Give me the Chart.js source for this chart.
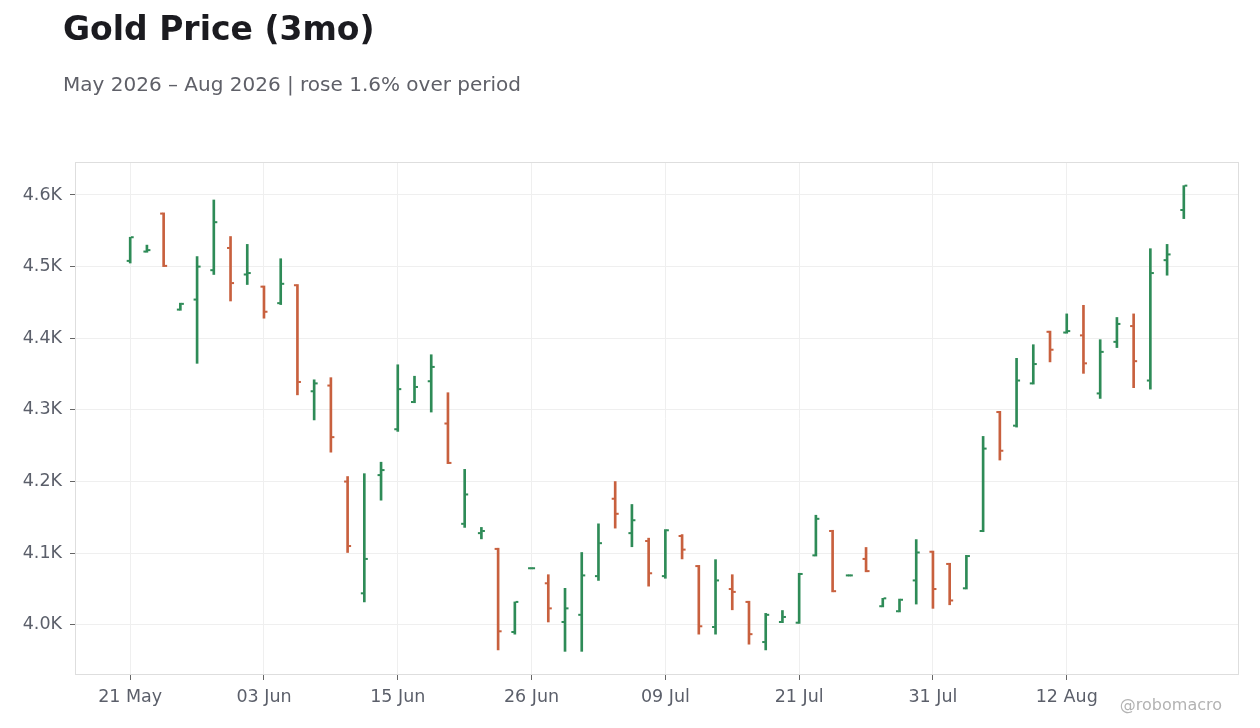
<!DOCTYPE html>
<html>
<head>
<meta charset="utf-8">
<script src="https://cdn.jsdelivr.net/npm/chart.js@4.4.1/dist/chart.umd.min.js"></script>
<style>
  html, body { margin: 0; padding: 0; background: #fff; }
  #wrap { position: relative; width: 1260px; height: 728px; overflow: hidden; font-family: 'DejaVu Sans', sans-serif; }
  #chartBox { position: absolute; left: 0; top: 0; width: 1260px; height: 728px; }
  .txt { position: absolute; line-height: 1; white-space: nowrap; }
  #title { left: 63px; top: 12px; font-size: 33px; font-weight: bold; color: #1b1b20; }
  #subtitle { left: 63px; top: 74px; font-size: 20px; color: #5f6068; }
  #credit { right: 38px; top: 697px; font-size: 16px; color: #b3b3b3; }
</style>
</head>
<body>
<div id="wrap">
  <div id="chartBox"><canvas id="ohlcChart"></canvas></div>
  <div class="txt" id="title">Gold Price (3mo)</div>
  <div class="txt" id="subtitle">May 2026 – Aug 2026 | rose 1.6% over period</div>
  <div class="txt" id="credit">@robomacro</div>
</div>
<script>
// Trading days shown on the x axis
const dates = [
  '21 May', '22 May', '26 May', '27 May', '28 May', '29 May', '01 Jun', '02 Jun',
  '03 Jun', '04 Jun', '05 Jun', '08 Jun', '09 Jun', '10 Jun', '11 Jun', '12 Jun',
  '15 Jun', '16 Jun', '17 Jun', '18 Jun', '22 Jun', '23 Jun', '24 Jun', '25 Jun',
  '26 Jun', '29 Jun', '30 Jun', '01 Jul', '02 Jul', '06 Jul', '07 Jul', '08 Jul',
  '09 Jul', '10 Jul', '13 Jul', '14 Jul', '15 Jul', '16 Jul', '17 Jul', '20 Jul',
  '21 Jul', '22 Jul', '23 Jul', '24 Jul', '27 Jul', '28 Jul', '29 Jul', '30 Jul',
  '31 Jul', '03 Aug', '04 Aug', '05 Aug', '06 Aug', '07 Aug', '10 Aug', '11 Aug',
  '12 Aug', '13 Aug', '14 Aug', '17 Aug', '18 Aug', '19 Aug', '20 Aug', '21 Aug'
];

const opens = [
  4508, 4521, 4574, 4440, 4454, 4495, 4526, 4489, 4472, 4449, 4474, 4326, 4334, 4200, 4044, 4209,
  4273, 4311, 4340, 4281, 4141, 4128, 4106, 3990, 4079, 4058, 4004, 4014, 4068, 4176, 4128, 4117,
  4068, 4124, 4082, 3997, 4050, 4032, 3976, 4004, 4003, 4097, 4131, 4069, 4092, 4026, 4019, 4062,
  4102, 4085, 4051, 4131, 4297, 4278, 4337, 4409, 4408, 4404, 4323, 4395, 4417, 4341, 4509, 4579
];
const highs = [
  4541, 4530, 4575, 4449, 4514, 4593, 4542, 4531, 4473, 4511, 4475, 4342, 4345, 4207, 4211, 4227,
  4363, 4347, 4377, 4324, 4217, 4136, 4107, 4032, 4080, 4070, 4051, 4101, 4141, 4200, 4168, 4121,
  4133, 4126, 4083, 4091, 4070, 4033, 4016, 4020, 4072, 4153, 4132, 4070, 4108, 4037, 4036, 4119,
  4103, 4086, 4097, 4263, 4298, 4372, 4391, 4410, 4434, 4446, 4398, 4429, 4434, 4525, 4531, 4613
];
const lows = [
  4505, 4520, 4500, 4439, 4365, 4489, 4452, 4475, 4428, 4447, 4321, 4286, 4241, 4101, 4032, 4174,
  4270, 4310, 4297, 4225, 4136, 4120, 3965, 3987, 4078, 4004, 3963, 3963, 4062, 4135, 4109, 4054,
  4065, 4092, 3987, 3987, 4021, 3973, 3965, 4003, 4002, 4096, 4046, 4068, 4074, 4025, 4018, 4029,
  4023, 4028, 4050, 4130, 4230, 4276, 4336, 4367, 4407, 4351, 4316, 4387, 4331, 4329, 4488, 4567
];
const closes = [
  4541, 4523, 4501, 4448, 4500, 4562, 4477, 4491, 4437, 4476, 4339, 4337, 4262, 4110, 4092, 4216,
  4329, 4332, 4360, 4226, 4182, 4131, 3991, 4032, 4079, 4023, 4023, 4069, 4114, 4155, 4146, 4072,
  4132, 4105, 3998, 4062, 4046, 3987, 4014, 4011, 4071, 4148, 4047, 4069, 4075, 4037, 4035, 4101,
  4050, 4034, 4096, 4246, 4243, 4341, 4364, 4384, 4410, 4365, 4381, 4420, 4368, 4491, 4517, 4613
];

// x positions that get a date label
const dateTicks = [0, 8, 16, 24, 32, 40, 48, 56];
const priceTicks = [4000, 4100, 4200, 4300, 4400, 4500, 4600];

const UP = '#2e8b57';
const DOWN = '#c8603e';
const barColor = i => (closes[i] >= opens[i] ? UP : DOWN);

Chart.defaults.font.family = "'DejaVu Sans', sans-serif";
Chart.defaults.color = '#5b5f6a';

// Open tick on the left, close tick on the right of every bar
const ohlcTicks = {
  id: 'ohlcTicks',
  afterDatasetsDraw(chart) {
    const { ctx, scales: { x, y } } = chart;
    ctx.save();
    for (let i = 0; i < dates.length; i++) {
      const px = x.getPixelForValue(i);
      ctx.fillStyle = barColor(i);
      ctx.fillRect(px - 3.5, y.getPixelForValue(opens[i]) - 1, 2.7, 2);
      ctx.fillRect(px + 0.8, y.getPixelForValue(closes[i]) - 1, 2.7, 2);
    }
    ctx.restore();
  }
};

// Light frame round the plot area
const plotFrame = {
  id: 'plotFrame',
  beforeDatasetsDraw(chart) {
    const { ctx, chartArea: a } = chart;
    ctx.save();
    ctx.strokeStyle = '#dedede';
    ctx.lineWidth = 1;
    ctx.strokeRect(a.left + 0.5, a.top + 0.5, a.right - a.left - 1, a.bottom - a.top - 1);
    ctx.restore();
  }
};

const ctx = document.getElementById('ohlcChart').getContext('2d');
new Chart(ctx, {
  type: 'bar',
  data: {
    datasets: [{
      label: 'Gold',
      data: dates.map((d, i) => ({ x: i, y: [lows[i], highs[i]] })),
      backgroundColor: dates.map((d, i) => barColor(i)),
      borderWidth: 0,
      barThickness: 2,
      minBarLength: 1
    }]
  },
  options: {
    responsive: true,
    maintainAspectRatio: false,
    animation: false,
    layout: { padding: { top: 162, right: 21, left: 0, bottom: 0 } },
    plugins: {
      legend: { display: false },
      tooltip: { enabled: false }
    },
    scales: {
      x: {
        type: 'linear',
        offset: false,
        min: -3.3,
        max: 66.3,
        afterBuildTicks: s => { s.ticks = dateTicks.map(v => ({ value: v })); },
        afterFit: s => { s.height = 53; },
        ticks: {
          callback: v => dates[v],
          font: { size: 17.5 },
          color: '#5b5f6a',
          padding: 7,
          maxRotation: 0,
          autoSkip: false
        },
        grid: { offset: false, color: '#efefef', tickColor: '#666', tickLength: 5 },
        border: { display: false }
      },
      y: {
        min: 3930,
        max: 4646,
        afterBuildTicks: s => { s.ticks = priceTicks.map(v => ({ value: v })); },
        afterFit: s => { s.width = 75; },
        ticks: {
          callback: v => (v / 1000).toFixed(1) + 'K',
          font: { size: 17.5 },
          color: '#5b5f6a',
          padding: 8
        },
        grid: { color: '#efefef', tickColor: '#666', tickLength: 5 },
        border: { display: false }
      }
    }
  },
  plugins: [plotFrame, ohlcTicks]
});
</script>
</body>
</html>
